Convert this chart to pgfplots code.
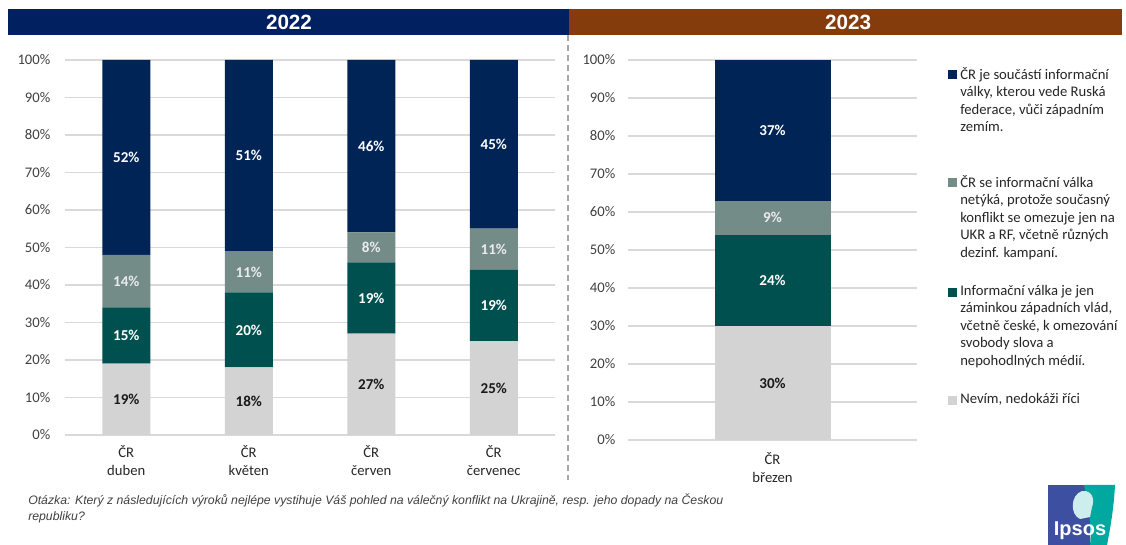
\documentclass[border=0pt]{standalone}
\usepackage{pgfplots}
\usepackage{pgfplotstable}
\pgfplotsset{compat=1.18}
\usepackage{fontspec}
\setmainfont{Carlito}
\newfontfamily\arial{Liberation Sans}

\definecolor{cNavy}{RGB}{0,36,86}
\definecolor{cGrayTeal}{RGB}{116,140,136}
\definecolor{cTeal}{RGB}{0,80,80}
\definecolor{cLight}{RGB}{211,211,211}
\definecolor{cHead}{RGB}{0,32,96}
\definecolor{cBrown}{RGB}{132,60,12}
\definecolor{cGrid}{RGB}{217,217,217}
\definecolor{cTxt}{RGB}{64,64,64}
\definecolor{cIpsosBlue}{RGB}{60,79,160}
\definecolor{cIpsosTeal}{RGB}{0,168,160}

\pgfplotstableread{
x nevim zaminka netyka soucast
0 19 15 14 52
1 18 20 11 51
2 27 19 8 46
3 25 19 11 45
}\tabA
\pgfplotstableread{
x nevim zaminka netyka soucast
0 30 24 9 37
}\tabB

\pgfplotsset{
  barstyle/.style={
    scale only axis, ybar stacked, ymin=0, ymax=100,
    ytick={0,10,...,100}, yticklabel={\pgfmathprintnumber{\tick}\%},
    ymajorgrids, grid style={draw=cGrid, line width=0.9pt},
    axis line style={draw=none}, major tick length=0pt,
    tick label style={font=\fontsize{11}{14}\selectfont, text=cTxt},
    xticklabel style={align=center, text=black!85, yshift=-4pt},
    /pgf/number format/assume math mode=true,
    nodes near coords={\pgfmathprintnumber{\pgfplotspointmeta}\%},
    every node near coord/.append style={font=\bfseries\fontsize{11.3}{13}\selectfont},
  },
}

\begin{document}
\begin{tikzpicture}[x=0.75pt,y=0.75pt]
\path[use as bounding box] (0,0) rectangle (1126,545);

% header bars
\fill[cHead] (8,510) rectangle (568.5,536);
\fill[cBrown] (568.5,510) rectangle (1122,536);
\node[text=white, font=\arial\bfseries\fontsize{15.5}{17}\selectfont] at (289,522.5) {2022};
\node[text=white, font=\arial\bfseries\fontsize{15.5}{17}\selectfont] at (848,522.5) {2023};
\draw[gray!70, line width=0.9pt, dash pattern=on 4.5pt off 3pt] (568,510) -- (568,65);

\begin{axis}[barstyle,
  at={(48.75pt,82.5pt)}, anchor=south west, width=367.5pt, height=281.25pt,
  xmin=-0.5, xmax=3.5, bar width=36pt,
  yticklabel style={xshift=-7.5pt},
  xtick={0,1,2,3},
  xticklabels={ČR\\duben, ČR\\květen, ČR\\červen, ČR\\červenec},
]
\addplot[fill=cLight, draw=none, nodes near coords style={text=black!90}] table[x=x,y=nevim] {\tabA};
\addplot[fill=cTeal, draw=none, nodes near coords style={text=white}] table[x=x,y=zaminka] {\tabA};
\addplot[fill=cGrayTeal, draw=none, nodes near coords style={text=white!92!black}] table[x=x,y=netyka] {\tabA};
\addplot[fill=cNavy, draw=none, nodes near coords style={text=white}] table[x=x,y=soucast] {\tabA};
\end{axis}

\begin{axis}[barstyle,
  at={(471pt,78.75pt)}, anchor=south west, width=216.75pt, height=285pt,
  xmin=-0.5, xmax=0.5, bar width=87pt,
  yticklabel style={xshift=-6pt},
  xticklabel style={yshift=-1.5pt},
  xtick={0}, xticklabels={ČR\\březen},
]
\addplot[fill=cLight, draw=none, nodes near coords style={text=black!90}] table[x=x,y=nevim] {\tabB};
\addplot[fill=cTeal, draw=none, nodes near coords style={text=white}] table[x=x,y=zaminka] {\tabB};
\addplot[fill=cGrayTeal, draw=none, nodes near coords style={text=white!92!black}] table[x=x,y=netyka] {\tabB};
\addplot[fill=cNavy, draw=none, nodes near coords style={text=white}] table[x=x,y=soucast] {\tabB};
\end{axis}

% legend
\begin{scope}[every node/.style={anchor=north west, inner sep=0pt, align=left,
    font=\fontsize{11}{13.1}\selectfont, text=black!85}]
\fill[cNavy] (948,466) rectangle ++(9,9);
\node at (960,478) {ČR je součástí informační\\války, kterou vede Ruská\\federace, vůči západním\\zemím.};
\fill[cGrayTeal] (948,358) rectangle ++(9,9);
\node at (960,370) {ČR se informační válka\\netýká, protože současný\\konflikt se omezuje jen na\\UKR a RF, včetně různých\\dezinf. kampaní.};
\fill[cTeal] (948,248) rectangle ++(9,9);
\node at (960,260) {Informační válka je jen\\záminkou západních vlád,\\včetně české, k omezování\\svobody slova a\\nepohodlných médií.};
\fill[cLight] (948,140) rectangle ++(9,9);
\node at (960,152) {Nevím, nedokáži říci};
\end{scope}

% footer
\node[anchor=north west, inner sep=0pt, align=left, text=cTxt,
  font=\arial\itshape\fontsize{9.2}{12}\selectfont] at (28,51)
  {Otázka: Který z následujících výroků nejlépe vystihuje Váš pohled na válečný konflikt na Ukrajině, resp. jeho dopady na Českou\\republiku?};

% logo
\fill[cIpsosBlue] (1048,0) rectangle (1090,60);
\fill[cIpsosTeal] (1084,60) .. controls (1088,40) and (1092,20) .. (1090,0) -- (1107,0)
  .. controls (1111,20) and (1114,40) .. (1115,60) -- cycle;
\fill[white!80!cIpsosTeal] (1080,26) .. controls (1070,30) and (1070,50) .. (1082,54)
  .. controls (1092,55) and (1095,46) .. (1092,38) -- (1090,28) -- cycle;
\node[text=white, font=\arial\bfseries\fontsize{15}{17}\selectfont] at (1080,14) {Ipsos};
\end{tikzpicture}
\end{document}
